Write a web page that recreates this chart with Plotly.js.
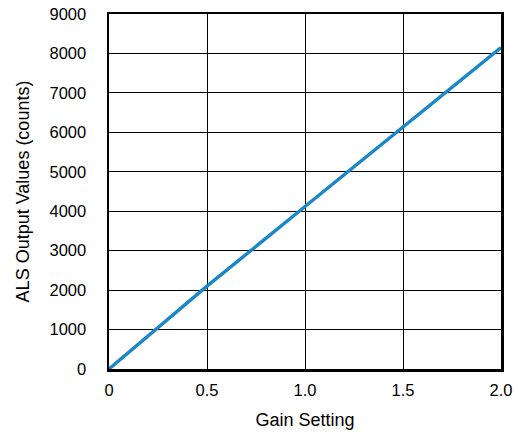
<!DOCTYPE html>
<html>
<head>
<meta charset="utf-8">
<script src="https://cdn.plot.ly/plotly-3.0.1.min.js"></script>
<style>html,body{margin:0;padding:0;background:#fff;}#chart{width:518px;height:433px;}</style>
</head>
<body>
<div id="chart"></div>
<script>
var gainSetting = [0, 0.5, 1.0, 1.5, 2.0];
var alsOutput = [0, 2100, 4120, 6140, 8150];
var xTickVals = [0, 0.5, 1.0, 1.5, 2.0];
var xTickText = ["0", "0.5", "1.0", "1.5", "2.0"];
var yTickVals = [0, 1000, 2000, 3000, 4000, 5000, 6000, 7000, 8000, 9000];

var trace = {
  x: gainSetting,
  y: alsOutput,
  type: 'scatter',
  mode: 'lines',
  line: {color: '#1a87c9', width: 3.4},
  hoverinfo: 'none'
};

var tickFont = {family: 'Liberation Sans, Arial, sans-serif', size: 16.5, color: '#000'};
var titleFont = {family: 'Liberation Sans, Arial, sans-serif', size: 18, color: '#000'};

var layout = {
  width: 518,
  height: 433,
  margin: {l: 109, r: 17, t: 14, b: 64},
  paper_bgcolor: '#fff',
  plot_bgcolor: '#fff',
  showlegend: false,
  font: tickFont,
  xaxis: {
    range: [0, 2],
    tickvals: xTickVals,
    ticktext: xTickText,
    showgrid: true,
    gridcolor: '#000',
    gridwidth: 1,
    zeroline: false,
    showline: true,
    linecolor: '#000',
    linewidth: 2.5,
    mirror: true,
    ticks: '',
    ticklabelstandoff: 5,
    tickfont: tickFont,
    title: {text: 'Gain Setting', font: titleFont, standoff: 15}
  },
  yaxis: {
    range: [0, 9000],
    tickvals: yTickVals,
    showgrid: true,
    gridcolor: '#000',
    gridwidth: 1,
    zeroline: false,
    showline: true,
    linecolor: '#000',
    linewidth: 2.5,
    mirror: true,
    ticks: '',
    ticklabelstandoff: 17,
    tickfont: tickFont,
    title: {text: 'ALS Output Values (counts)', font: titleFont, standoff: 15}
  }
};

Plotly.newPlot('chart', [trace], layout, {staticPlot: true, displayModeBar: false});
</script>
</body>
</html>
